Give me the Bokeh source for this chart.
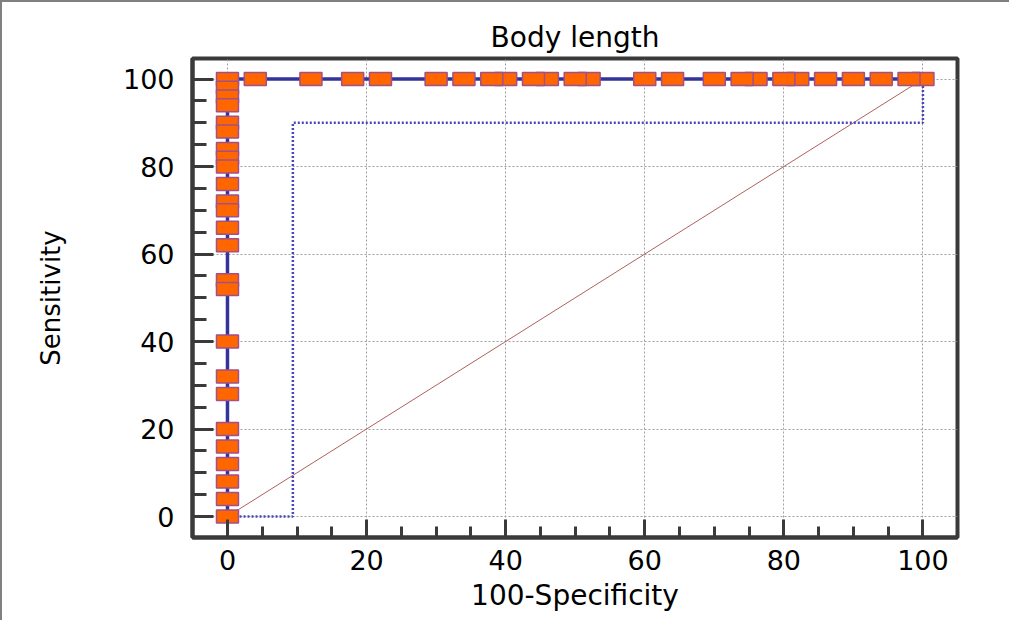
from bokeh.plotting import figure
from bokeh.models import Range1d, SingleIntervalTicker, ColumnDataSource
from bokeh.embed import file_html
from bokeh.resources import INLINE

# ROC points (100-Specificity, Sensitivity), in curve order
roc_x = [100, 98, 94, 90, 86, 82, 80, 76, 74, 70, 64, 60, 52, 50, 46, 44, 40, 38, 34, 30, 22, 18, 12, 4,
         0, 0, 0, 0, 0, 0, 0, 0, 0, 0, 0, 0, 0, 0, 0, 0, 0, 0, 0, 0, 0, 0, 0, 0, 0]
roc_y = [100, 100, 100, 100, 100, 100, 100, 100, 100, 100, 100, 100, 100, 100, 100, 100, 100, 100, 100, 100, 100, 100, 100, 100,
         100, 98, 96, 94, 90, 88, 84, 82, 80, 76, 72, 70, 66, 62, 54, 52, 40, 32, 28, 20, 16, 12, 8, 4, 0]

# lower confidence bound
ci_x = [0, 9.4, 9.4, 100, 100]
ci_y = [0, 0, 90, 90, 100]

# reference diagonal
diag_x = [0, 100]
diag_y = [0, 100]

FONT = "DejaVu Sans"

p = figure(width=1009, height=620, output_backend="svg", toolbar_location=None,
           x_range=Range1d(-5.03, 104.97), y_range=Range1d(-4.8, 104.7),
           min_border_left=190, min_border_right=54, min_border_top=56, min_border_bottom=85,
           title="Body length")

p.styles = {"border-top": "2px solid #808080", "border-left": "2px solid #808080"}

p.title.align = "center"
p.title.text_font = FONT
p.title.text_font_size = "28px"
p.title.text_font_style = "normal"
p.title.text_color = "black"
p.title.standoff = 10

p.outline_line_color = "#3a3a3a"
p.outline_line_width = 4
p.outline_line_alpha = 1

for ax, lab in ((p.xaxis[0], "100-Specificity"), (p.yaxis[0], "Sensitivity")):
    ax.ticker = SingleIntervalTicker(interval=20, num_minor_ticks=4)
    ax.axis_label = lab
    ax.axis_label_text_font = FONT
    ax.axis_label_text_font_style = "normal"
    ax.axis_label_text_color = "black"
    ax.major_label_text_font = FONT
    ax.major_label_text_font_size = "27px"
    ax.major_label_text_color = "black"
    ax.axis_line_color = "#3a3a3a"
    ax.axis_line_width = 4
    ax.major_tick_line_color = "#3a3a3a"
    ax.major_tick_line_width = 3
    ax.minor_tick_line_color = "#3a3a3a"
    ax.minor_tick_line_width = 3
    ax.major_tick_out = 0
    ax.minor_tick_out = 0

p.xaxis.axis_label_text_font_size = "28px"
p.yaxis.axis_label_text_font_size = "26px"
p.yaxis.major_tick_in = 21
p.yaxis.minor_tick_in = 14
p.xaxis.major_tick_in = 18
p.xaxis.minor_tick_in = 11
p.yaxis.major_label_standoff = 18
p.xaxis.major_label_standoff = 12
p.yaxis.axis_label_standoff = 54
p.xaxis.axis_label_standoff = 6

for g in (p.xgrid[0], p.ygrid[0]):
    g.ticker = SingleIntervalTicker(interval=20)
    g.grid_line_color = "#a0a0a0"
    g.grid_line_dash = "2 2"
    g.grid_line_width = 1

p.line(diag_x, diag_y, line_color="#b06060", line_width=1)
p.line(ci_x, ci_y, line_color="#4848b8", line_width=2.5, line_dash="2 2")

src = ColumnDataSource(dict(x=roc_x, y=roc_y))
p.line("x", "y", source=src, line_color="#333399", line_width=3.5)
p.rect("x", "y", source=src, width=22, height=13, width_units="screen", height_units="screen",
       fill_color="#ff6600", line_color="#a0508a", line_width=1.5)

open("out.html", "w").write(file_html(p, INLINE))
